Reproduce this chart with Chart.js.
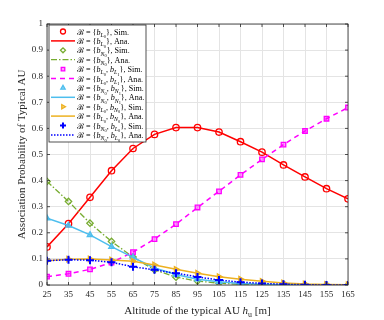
<!DOCTYPE html>
<html>
<head>
<meta charset="utf-8">
<script src="https://cdn.jsdelivr.net/npm/chart.js@4"></script>
<style>
  body { margin: 0; background: #fff; }
</style>
</head>
<body>
<canvas id="chart-1" width="384" height="320"></canvas>
<script>
const altitudes = [25, 35, 45, 55, 65, 75, 85, 95, 105, 115, 125, 135, 145, 155, 165];
const xTicks = altitudes;

// association probabilities
const probL0 = [0.146, 0.235, 0.336, 0.438, 0.523, 0.577, 0.603, 0.603, 0.586, 0.549, 0.509, 0.46, 0.414, 0.369, 0.33];
const probN0 = [0.397, 0.32, 0.237, 0.167, 0.107, 0.058, 0.03, 0.015, 0.007, 0.003, 0.001, 0, 0, 0, 0];
const probL0L1 = [0.032, 0.043, 0.06, 0.086, 0.126, 0.176, 0.233, 0.297, 0.359, 0.422, 0.481, 0.538, 0.59, 0.637, 0.68];
const probN0N1 = [0.256, 0.228, 0.192, 0.147, 0.106, 0.065, 0.04, 0.022, 0.012, 0.006, 0.003, 0.001, 0, 0, 0];
const probL0N0 = [0.093, 0.099, 0.1, 0.096, 0.091, 0.077, 0.06, 0.045, 0.032, 0.022, 0.014, 0.008, 0.004, 0.002, 0.001];
const probN0L0 = [0.093, 0.097, 0.095, 0.087, 0.07, 0.058, 0.045, 0.031, 0.019, 0.011, 0.006, 0.003, 0.001, 0, 0];

const FONT = '"Liberation Serif", "DejaVu Serif", serif';
const AXIS = '#262626';

function toXY(values) {
  return values.map((v, i) => ({ x: altitudes[i], y: v }));
}

const series = [
  { subs: [['L', '0']], data: probL0, color: '#ff0000', marker: 'circle', fill: 'rgba(0,0,0,0)', dash: [], width: 1.5 },
  { subs: [['N', '0']], data: probN0, color: '#77ac30', marker: 'rectRot', fill: 'rgba(0,0,0,0)', dash: [6, 2, 1.5, 2], width: 1.3 },
  { subs: [['L', '0'], ['L', '1']], data: probL0L1, color: '#ff00ff', marker: 'rect', fill: 'rgba(255,0,255,0.4)', dash: [5, 4], width: 1.5 },
  { subs: [['N', '0'], ['N', '1']], data: probN0N1, color: '#4dbeee', marker: 'triangle', fill: 'rgba(77,190,238,0.6)', dash: [], width: 1.5 },
  { subs: [['L', '0'], ['N', '0']], data: probL0N0, color: '#edb120', marker: 'triangle', rot: 90, fill: 'rgba(237,177,32,0.6)', dash: [], width: 1.5 },
  { subs: [['N', '0'], ['L', '0']], data: probN0L0, color: '#0000ff', marker: 'cross', fill: 'rgba(0,0,0,0)', dash: [1.5, 1.5], width: 1.5 },
];

const datasets = [];
series.forEach((s, k) => {
  datasets.push({
    label: 'Sim', kind: 'Sim.', subs: s.subs,
    data: toXY(s.data), showLine: false,
    borderColor: s.color, backgroundColor: s.fill,
    pointStyle: s.marker, pointRotation: s.rot || 0,
    pointRadius: s.marker === 'cross' ? 4 : 3.2, pointBorderWidth: s.marker === 'cross' ? 2 : 1.3,
    order: 20 - k,
  });
  datasets.push({
    label: 'Ana', kind: 'Ana.', subs: s.subs,
    data: toXY(s.data), showLine: true,
    borderColor: s.color, backgroundColor: s.color,
    borderWidth: s.width, borderDash: s.dash,
    pointRadius: 0, tension: 0,
    order: 20 - k,
  });
});

function drawRich(ctx, x, y, parts, base) {
  const sizes = [1, 0.72, 0.55];
  const shifts = [0, 0.28, 0.45];
  parts.forEach(([text, level, italic]) => {
    const size = base * sizes[level];
    ctx.font = (italic ? 'italic ' : '') + size + 'px ' + FONT;
    ctx.fillText(text, x, y + base * shifts[level]);
    x += ctx.measureText(text).width;
  });
  return x;
}

function legendParts(ds) {
  const parts = [['\u212C', 0, false], [' = {', 0, false]];
  ds.subs.forEach((sub, i) => {
    if (i > 0) parts.push([', ', 0, false]);
    parts.push(['b', 0, true], [sub[0], 1, true], [sub[1], 2, false]);
  });
  parts.push(['}, ' + ds.kind, 0, false]);
  return parts;
}

const framePlugin = {
  id: 'frame',
  afterDraw(chart) {
    const ctx = chart.ctx;
    const a = chart.chartArea;
    ctx.save();
    // axes box with inward ticks
    ctx.strokeStyle = AXIS;
    ctx.lineWidth = 0.8;
    ctx.strokeRect(a.left, a.top, a.right - a.left, a.bottom - a.top);
    const xs = chart.scales.x, ys = chart.scales.y;
    ctx.beginPath();
    xTicks.forEach(t => {
      const px = xs.getPixelForValue(t);
      ctx.moveTo(px, a.bottom); ctx.lineTo(px, a.bottom - 3);
      ctx.moveTo(px, a.top); ctx.lineTo(px, a.top + 3);
    });
    for (let v = 0; v <= 1.0001; v += 0.1) {
      const py = ys.getPixelForValue(v);
      ctx.moveTo(a.left, py); ctx.lineTo(a.left + 3, py);
      ctx.moveTo(a.right, py); ctx.lineTo(a.right - 3, py);
    }
    ctx.stroke();

    // axis titles
    ctx.fillStyle = AXIS;
    ctx.textBaseline = 'alphabetic';
    ctx.save();
    ctx.translate(25, (a.top + a.bottom) / 2);
    ctx.rotate(-Math.PI / 2);
    ctx.font = '11px ' + FONT;
    ctx.textAlign = 'center';
    ctx.fillText('Association Probability of Typical AU', 0, 0);
    ctx.restore();

    ctx.textAlign = 'left';
    const xParts = [['Altitude of the typical AU ', 0, false], ['h', 0, true], ['u', 1, false], [' [m]', 0, false]];
    let w = 0;
    xParts.forEach(([t, lvl, it]) => {
      ctx.font = (it ? 'italic ' : '') + (11 * [1, 0.72][lvl]) + 'px ' + FONT;
      w += ctx.measureText(t).width;
    });
    drawRich(ctx, (a.left + a.right) / 2 - w / 2, 314, xParts, 11);

    // legend
    const lx = 49, ly = 25, lw = 97, lh = 117;
    ctx.fillStyle = '#fff';
    ctx.fillRect(lx, ly, lw, lh);
    ctx.strokeStyle = AXIS;
    ctx.lineWidth = 0.8;
    ctx.strokeRect(lx, ly, lw, lh);
    chart.data.datasets.forEach((ds, i) => {
      const cy = ly + 6.5 + i * 9.4;
      ctx.save();
      if (ds.showLine) {
        ctx.strokeStyle = ds.borderColor;
        ctx.lineWidth = ds.borderWidth;
        ctx.setLineDash(ds.borderDash);
        ctx.beginPath();
        ctx.moveTo(lx + 2, cy); ctx.lineTo(lx + 26, cy);
        ctx.stroke();
      } else {
        ctx.strokeStyle = ds.borderColor;
        ctx.fillStyle = ds.backgroundColor;
        ctx.lineWidth = ds.pointBorderWidth;
        Chart.helpers.drawPoint(ctx, {
          pointStyle: ds.pointStyle, rotation: ds.pointRotation,
          radius: ds.pointStyle === 'cross' ? 3 : 2.5, borderWidth: ds.pointBorderWidth,
        }, lx + 14, cy);
      }
      ctx.restore();
      ctx.fillStyle = '#000';
      drawRich(ctx, lx + 28, cy + 3, legendParts(ds), 8.1);
    });
    ctx.restore();
  }
};

const config = {
  type: 'line',
  data: { datasets },
  options: {
    responsive: false,
    animation: false,
    devicePixelRatio: 1,
    layout: { padding: { top: 24, right: 36, left: 0, bottom: 0 } },
    plugins: { legend: { display: false }, tooltip: { enabled: false } },
    scales: {
      x: {
        type: 'linear', min: 25, max: 165,
        afterBuildTicks(scale) { scale.ticks = xTicks.map(v => ({ value: v })); },
        afterFit(scale) { scale.height = 35; },
        ticks: { font: { family: FONT, size: 9 }, color: AXIS, padding: 4, maxRotation: 0 },
        grid: { color: '#e4e4e4', drawTicks: false },
        border: { display: false },
      },
      y: {
        min: 0, max: 1,
        afterFit(scale) { scale.width = 47; },
        ticks: {
          stepSize: 0.1, font: { family: FONT, size: 9 }, color: AXIS, padding: 4,
          callback: v => String(Math.round(v * 10) / 10),
        },
        grid: { color: '#e4e4e4', drawTicks: false },
        border: { display: false },
      },
    },
  },
  plugins: [framePlugin],
};

new Chart(document.getElementById('chart-1'), config);
</script>
</body>
</html>
